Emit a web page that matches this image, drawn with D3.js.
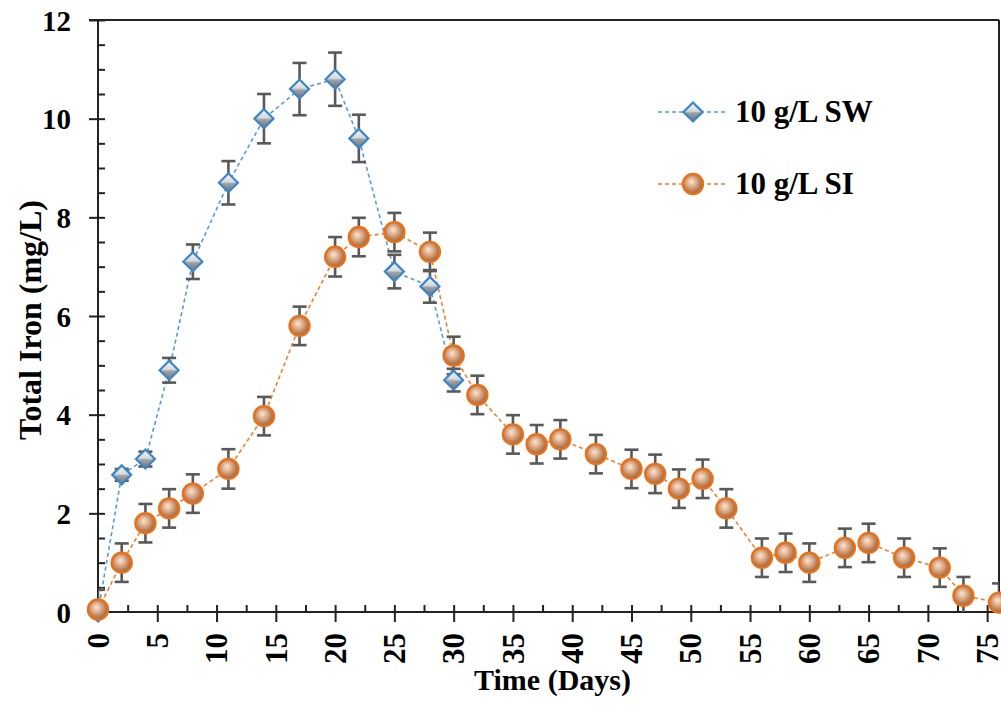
<!DOCTYPE html>
<html>
<head>
<meta charset="utf-8">
<script src="https://cdn.jsdelivr.net/npm/d3@7"></script>
<style>
  html, body { margin: 0; padding: 0; background: #fff; }
  svg { display: block; }
  text { font-family: "Liberation Serif", "Times New Roman", serif; font-weight: bold; fill: #000; }
</style>
</head>
<body>
<svg id="chart" width="1001" height="709"></svg>
<script>
// ---------- data ----------
const swDays   = [0, 2, 4, 6, 8, 11, 14, 17, 20, 22, 25, 28, 30];
const swValues = [0, 2.78, 3.1, 4.9, 7.1, 8.7, 10.0, 10.6, 10.8, 9.6, 6.9, 6.6, 4.7];
const swErrors = [0, 0.12, 0.15, 0.25, 0.35, 0.44, 0.5, 0.53, 0.54, 0.48, 0.34, 0.33, 0.23];

const siDays   = [0, 2, 4, 6, 8, 11, 14, 17, 20, 22, 25, 28, 30, 32, 35, 37, 39, 42, 45, 47, 49, 51, 53, 56, 58, 60, 63, 65, 68, 71, 73, 76];
const siValues = [0.05, 1.0, 1.8, 2.1, 2.4, 2.9, 3.97, 5.8, 7.2, 7.6, 7.7, 7.3, 5.2, 4.4, 3.6, 3.4, 3.5, 3.2, 2.9, 2.8, 2.5, 2.7, 2.1, 1.1, 1.2, 1.0, 1.3, 1.4, 1.1, 0.9, 0.33, 0.19];
const siErrors = [0.4, 0.39, 0.39, 0.39, 0.39, 0.4, 0.39, 0.39, 0.4, 0.39, 0.39, 0.39, 0.38, 0.39, 0.39, 0.39, 0.39, 0.39, 0.39, 0.39, 0.39, 0.39, 0.39, 0.39, 0.39, 0.39, 0.39, 0.39, 0.39, 0.39, 0.38, 0.39];

const xMajorTicks = [0, 5, 10, 15, 20, 25, 30, 35, 40, 45, 50, 55, 60, 65, 70, 75];
const xMinorTicks = [2.5, 7.5, 12.5, 17.5, 22.5, 27.5, 32.5, 37.5, 42.5, 47.5, 52.5, 57.5, 62.5, 67.5, 72.5];
const yMajorTicks = [0, 2, 4, 6, 8, 10, 12];
const yMinorTicks = [0.5, 1, 1.5, 2.5, 3, 3.5, 4.5, 5, 5.5, 6.5, 7, 7.5, 8.5, 9, 9.5, 10.5, 11, 11.5];

const seriesNames = ["10 g/L SW", "10 g/L SI"];
const xTitle = "Time (Days)";
const yTitle = "Total Iron (mg/L)";

// ---------- layout ----------
const L = 98, R = 999, T = 20, B = 612;
const svg = d3.select("#chart");
const x = d3.scaleLinear().domain([0, 76]).range([L, R]);
const y = d3.scaleLinear().domain([0, 12]).range([B, T]);

// ---------- defs ----------
const defs = svg.append("defs");
const dg = defs.append("linearGradient").attr("id", "diaGrad")
  .attr("x1", "0").attr("y1", "0").attr("x2", "0").attr("y2", "1");
dg.append("stop").attr("offset", "0%").attr("stop-color", "#f4f6f8");
dg.append("stop").attr("offset", "45%").attr("stop-color", "#d7dadd");
dg.append("stop").attr("offset", "55%").attr("stop-color", "#9ea3a8");
dg.append("stop").attr("offset", "100%").attr("stop-color", "#6c7075");

const cg = defs.append("radialGradient").attr("id", "cirGrad")
  .attr("cx", "0.45").attr("cy", "0.45").attr("r", "0.6").attr("fx", "0.42").attr("fy", "0.38");
cg.append("stop").attr("offset", "0%").attr("stop-color", "#fbe6d6");
cg.append("stop").attr("offset", "45%").attr("stop-color", "#d9a580");
cg.append("stop").attr("offset", "100%").attr("stop-color", "#95552a");

defs.append("clipPath").attr("id", "plotClip")
  .append("rect").attr("x", L).attr("y", T).attr("width", R - L).attr("height", B - T);

// ---------- axes ----------
const axisColor = "#222";
function styleAxis(g) {
  g.selectAll("path").attr("stroke", axisColor).attr("stroke-width", 2);
  g.selectAll("line").attr("stroke", axisColor).attr("stroke-width", 2);
}

// frame top & right
svg.append("line").attr("x1", L - 9).attr("x2", R).attr("y1", y(12)).attr("y2", y(12))
  .attr("stroke", axisColor).attr("stroke-width", 2);
svg.append("line").attr("x1", R).attr("x2", R).attr("y1", T).attr("y2", B)
  .attr("stroke", axisColor).attr("stroke-width", 2);

// x axis: major (outside) with labels
const gx = svg.append("g").attr("transform", `translate(0,${B})`)
  .call(d3.axisBottom(x).tickValues(xMajorTicks).tickSize(10).tickSizeOuter(0).tickFormat(d3.format("d")));
gx.select(".domain").attr("d", `M${L},0H${R}`);
gx.selectAll("text")
  .attr("transform", "rotate(-90)")
  .attr("x", -21).attr("y", 0).attr("dy", "0.33em")
  .attr("text-anchor", "end")
  .style("font-size", "31px");
styleAxis(gx);
// x axis inner parts of major ticks + minor ticks
svg.append("g").attr("transform", `translate(0,${B})`)
  .call(d3.axisBottom(x).tickValues(xMajorTicks.concat(xMinorTicks)).tickSize(-7).tickSizeOuter(0).tickFormat(""))
  .call(g => g.select(".domain").remove())
  .call(styleAxis);

// y axis
const gy = svg.append("g").attr("transform", `translate(${L},0)`)
  .call(d3.axisLeft(y).tickValues(yMajorTicks).tickSize(9).tickSizeOuter(0).tickFormat(d3.format("d")));
gy.select(".domain").attr("d", `M0,${T}V${B}`);
gy.selectAll("text").attr("x", -27).attr("dy", "0.35em").style("font-size", "29px");
styleAxis(gy);
svg.append("g").attr("transform", `translate(${L},0)`)
  .call(d3.axisLeft(y).tickValues(yMajorTicks.concat(yMinorTicks)).tickSize(-7).tickSizeOuter(0).tickFormat(""))
  .call(g => g.select(".domain").remove())
  .call(styleAxis);

// titles
svg.append("text").attr("x", (L + R) / 2 + 4).attr("y", 690)
  .attr("text-anchor", "middle").style("font-size", "30px").text(xTitle);
svg.append("text").attr("transform", `translate(41,${(T + B) / 2 + 4}) rotate(-90)`)
  .attr("text-anchor", "middle").style("font-size", "32px").text(yTitle);

// ---------- series ----------
const sw = swDays.map((d, i) => ({ d, v: swValues[i], e: swErrors[i] }));
const si = siDays.map((d, i) => ({ d, v: siValues[i], e: siErrors[i] }));
const blue = "#5b9bd5", orange = "#f07f30";

const line = d3.line().x(p => x(p.d)).y(p => y(p.v));

svg.append("path").datum(sw).attr("d", line).attr("fill", "none")
  .attr("stroke", blue).attr("stroke-width", 1.6).attr("stroke-dasharray", "4,3");
svg.append("path").datum(si).attr("d", line).attr("fill", "none")
  .attr("stroke", orange).attr("stroke-width", 1.6).attr("stroke-dasharray", "4,3");

// error bars
function errorBars(data) {
  const g = svg.append("g").attr("clip-path", "url(#plotClip)")
    .attr("stroke", "#595959").attr("stroke-width", 2.6).attr("fill", "none");
  const eb = g.selectAll("g").data(data.filter(p => p.e > 0)).join("g");
  eb.append("line").attr("x1", p => x(p.d)).attr("x2", p => x(p.d))
    .attr("y1", p => y(p.v + p.e)).attr("y2", p => y(p.v - p.e));
  eb.append("line").attr("x1", p => x(p.d) - 7).attr("x2", p => x(p.d) + 7)
    .attr("y1", p => y(p.v + p.e)).attr("y2", p => y(p.v + p.e));
  eb.append("line").attr("x1", p => x(p.d) - 7).attr("x2", p => x(p.d) + 7)
    .attr("y1", p => y(p.v - p.e)).attr("y2", p => y(p.v - p.e));
}
errorBars(si);
errorBars(sw);

// markers
const diamond = (cx, cy, s) => `M${cx},${cy - s}L${cx + s},${cy}L${cx},${cy + s}L${cx - s},${cy}Z`;
function drawCircles(data, g) {
  g.selectAll("circle").data(data).join("circle")
    .attr("cx", p => x(p.d)).attr("cy", p => y(p.v)).attr("r", 10)
    .attr("fill", "url(#cirGrad)").attr("stroke", "#e8721c").attr("stroke-width", 2.4);
}
function drawDiamonds(data, g) {
  g.selectAll("path").data(data).join("path")
    .attr("d", p => diamond(x(p.d), y(p.v), 9.5))
    .attr("fill", "url(#diaGrad)").attr("stroke", "#3d85c6").attr("stroke-width", 2.2)
    .attr("stroke-linejoin", "miter");
}
drawDiamonds(sw, svg.append("g"));
drawCircles(si, svg.append("g"));

// ---------- legend ----------
const legendRows = [
  { name: seriesNames[0], color: blue, kind: "diamond", cy: 112 },
  { name: seriesNames[1], color: orange, kind: "circle", cy: 184 }
];
const lg = svg.append("g");
legendRows.forEach(r => {
  lg.append("line").attr("x1", 658).attr("x2", 727).attr("y1", r.cy).attr("y2", r.cy)
    .attr("stroke", r.color).attr("stroke-width", 1.6).attr("stroke-dasharray", "4,3");
  if (r.kind === "diamond") {
    lg.append("path").attr("d", diamond(693, r.cy, 9.5))
      .attr("fill", "url(#diaGrad)").attr("stroke", "#3d85c6").attr("stroke-width", 2.2);
  } else {
    lg.append("circle").attr("cx", 693).attr("cy", r.cy).attr("r", 10)
      .attr("fill", "url(#cirGrad)").attr("stroke", "#e8721c").attr("stroke-width", 2.4);
  }
  lg.append("text").attr("x", 735).attr("y", r.cy + 10).style("font-size", "31px").text(r.name);
});
</script>
</body>
</html>
